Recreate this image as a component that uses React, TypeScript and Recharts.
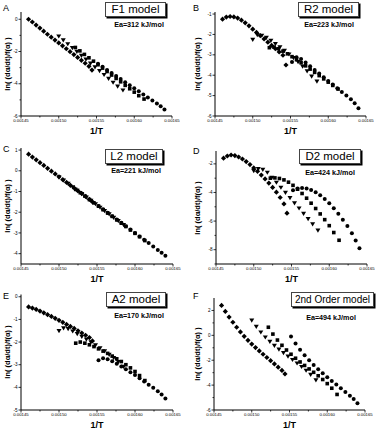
import { ScatterChart, Scatter, XAxis, YAxis } from "recharts";

const X_TICKS = [0.00145, 0.001475, 0.0015, 0.001525, 0.00155, 0.001575, 0.0016, 0.001625, 0.00165];

// 1/T values of the four runs
const DIAMOND_X = [0.00146, 0.001465, 0.00147, 0.001475, 0.00148, 0.001485, 0.00149, 0.001495, 0.0015, 0.001505, 0.00151, 0.001515, 0.00152, 0.001525, 0.00153, 0.001535, 0.00154, 0.001544];
const TRIANGLE_X = [0.0015, 0.001506, 0.001512, 0.001518, 0.001524, 0.00153, 0.001536, 0.001542, 0.001548, 0.001554, 0.00156, 0.001566, 0.001572, 0.001578, 0.001585];
const SQUARE_X = [0.001522, 0.001528, 0.001534, 0.00154, 0.001546, 0.001552, 0.001558, 0.001564, 0.00157, 0.001576, 0.001582, 0.001588, 0.001594, 0.0016, 0.001606, 0.001613];
const CIRCLE_X = [0.001552, 0.001558, 0.001564, 0.00157, 0.001576, 0.001582, 0.001588, 0.001594, 0.0016, 0.001606, 0.001612, 0.001618, 0.001624, 0.00163, 0.001635, 0.00164];

// F1 model
const F1_DIAMOND = [0, -0.17, -0.36, -0.55, -0.74, -0.93, -1.11, -1.29, -1.47, -1.65, -1.83, -2.01, -2.19, -2.37, -2.55, -2.73, -2.92, -3.15];
const F1_TRIANGLE = [-1.05, -1.29, -1.53, -1.77, -2.01, -2.25, -2.49, -2.73, -2.96, -3.2, -3.44, -3.68, -3.92, -4.16, -4.4];
const F1_SQUARE = [-1.75, -1.96, -2.18, -2.39, -2.6, -2.82, -3.03, -3.24, -3.46, -3.67, -3.88, -4.1, -4.31, -4.52, -4.74, -4.95];
const F1_CIRCLE = [-2.76, -2.95, -3.14, -3.33, -3.52, -3.71, -3.9, -4.09, -4.28, -4.47, -4.66, -4.85, -5.04, -5.23, -5.4, -5.6];

// R2 model
const R2_DIAMOND = [-1.25, -1.15, -1.12, -1.14, -1.2, -1.3, -1.43, -1.58, -1.74, -1.9, -2.06, -2.22, -2.38, -2.54, -2.7, -2.86, -3.02, -3.5];
const R2_TRIANGLE = [-2.25, -2.02, -2.05, -2.15, -2.3, -2.46, -2.62, -2.79, -2.97, -3.15, -3.34, -3.56, -3.8, -4.05, -4.3];
const R2_SQUARE = [-2.65, -2.62, -2.7, -2.82, -2.95, -3.09, -3.24, -3.39, -3.54, -3.7, -3.86, -4.02, -4.18, -4.34, -4.5, -4.68];
const R2_CIRCLE = [-3.35, -3.12, -3.2, -3.38, -3.56, -3.74, -3.92, -4.1, -4.28, -4.46, -4.64, -4.82, -5.0, -5.18, -5.38, -5.62];

// L2 model
const L2_DIAMOND = [0.8, 0.66, 0.53, 0.39, 0.26, 0.12, -0.02, -0.15, -0.29, -0.43, -0.56, -0.7, -0.83, -0.97, -1.1, -1.24, -1.38, -1.5];
const L2_TRIANGLE = [-0.3, -0.46, -0.62, -0.79, -0.95, -1.11, -1.28, -1.44, -1.6, -1.77, -1.93, -2.09, -2.26, -2.42, -2.61];
const L2_SQUARE = [-0.9, -1.06, -1.22, -1.39, -1.55, -1.71, -1.88, -2.04, -2.2, -2.37, -2.53, -2.69, -2.86, -3.02, -3.18, -3.37];
const L2_CIRCLE = [-1.7, -1.86, -2.02, -2.19, -2.35, -2.51, -2.68, -2.84, -3.0, -3.17, -3.33, -3.49, -3.66, -3.82, -3.96, -4.1];

// D2 model
const D2_DIAMOND = [-1.6, -1.45, -1.38, -1.42, -1.52, -1.66, -1.84, -2.05, -2.28, -2.52, -2.78, -3.05, -3.34, -3.65, -3.98, -4.35, -4.8, -5.45];
const D2_TRIANGLE = [-2.48, -2.35, -2.4, -2.6, -2.95, -3.3, -3.65, -4.0, -4.37, -4.74, -5.1, -5.47, -5.84, -6.21, -6.65];
const D2_SQUARE = [-3.0, -2.98, -3.02, -3.12, -3.28, -3.5, -3.77, -4.07, -4.4, -4.75, -5.12, -5.5, -5.9, -6.32, -6.8, -7.34];
const D2_CIRCLE = [-3.85, -3.72, -3.68, -3.72, -3.82, -3.98, -4.2, -4.46, -4.76, -5.1, -5.48, -5.9, -6.35, -6.85, -7.35, -7.9];

// A2 model
const A2_DIAMOND = [-0.45, -0.5, -0.56, -0.63, -0.71, -0.79, -0.87, -0.95, -1.04, -1.13, -1.22, -1.31, -1.4, -1.5, -1.6, -1.7, -1.8, -1.95];
const A2_TRIANGLE = [-1.5, -1.38, -1.42, -1.52, -1.64, -1.76, -1.88, -2.0, -2.13, -2.26, -2.4, -2.55, -2.7, -2.87, -3.08];
const A2_SQUARE = [-2.05, -2.0, -2.05, -2.12, -2.2, -2.3, -2.4, -2.5, -2.62, -2.74, -2.86, -3.0, -3.14, -3.3, -3.48, -3.7];
const A2_CIRCLE = [-2.8, -2.72, -2.76, -2.85, -2.96, -3.08, -3.2, -3.33, -3.46, -3.6, -3.74, -3.88, -4.02, -4.17, -4.32, -4.49];

// 2nd order model
const O2_DIAMOND = [2.4, 1.92, 1.47, 1.05, 0.65, 0.27, -0.08, -0.4, -0.7, -0.98, -1.25, -1.52, -1.78, -2.04, -2.3, -2.56, -2.82, -3.1];
const O2_TRIANGLE = [1.2, 0.7, 0.25, -0.15, -0.5, -0.82, -1.12, -1.4, -1.68, -1.96, -2.24, -2.52, -2.82, -3.15, -3.6];
const O2_SQUARE = [0.65, 0.1, -0.38, -0.8, -1.18, -1.52, -1.84, -2.14, -2.42, -2.7, -2.97, -3.25, -3.55, -3.88, -4.25, -4.75];
const O2_CIRCLE = [-0.1, -0.65, -1.15, -1.6, -2.0, -2.38, -2.72, -3.05, -3.36, -3.66, -3.95, -4.25, -4.55, -4.85, -5.12, -5.45];

const FONT = '"Liberation Sans", Arial, sans-serif';

const zip = (xs: number[], ys: number[]) => xs.map((x, i) => ({ x, y: ys[i] }));

const Diamond = (p: any) => (
  <polygon points={`${p.cx},${p.cy - 2.6} ${p.cx + 2.6},${p.cy} ${p.cx},${p.cy + 2.6} ${p.cx - 2.6},${p.cy}`} fill="#000" />
);
const TriDown = (p: any) => (
  <polygon points={`${p.cx - 2.5},${p.cy - 1.8} ${p.cx + 2.5},${p.cy - 1.8} ${p.cx},${p.cy + 2.4}`} fill="#000" />
);
const Square = (p: any) => <rect x={p.cx - 1.8} y={p.cy - 1.8} width={3.6} height={3.6} fill="#000" />;
const Dot = (p: any) => <circle cx={p.cx} cy={p.cy} r={2} fill="#000" />;

const XTick = (props: any) => {
  const { x, y, payload, index } = props;
  const major = index % 2 === 0;
  return (
    <g>
      <line x1={x} y1={y} x2={x} y2={y + (major ? 2.5 : 1.5)} stroke="#000" strokeWidth={0.8} />
      {major && (
        <text x={x} y={y + 6.3} fontSize={4.3} textAnchor="middle" fill="#000" fontFamily={FONT}>
          {payload.value.toFixed(5)}
        </text>
      )}
    </g>
  );
};

const makeYTick = (step: number) => (props: any) => {
  const { x, y, payload } = props;
  const major = Math.round(payload.value) % step === 0;
  return (
    <g>
      <line x1={x - (major ? 2.5 : 1.5)} y1={y} x2={x} y2={y} stroke="#000" strokeWidth={0.8} />
      {major && (
        <text x={x - 3.5} y={y + 1.6} fontSize={4.6} textAnchor="end" fill="#000" fontFamily={FONT}>
          {payload.value}
        </text>
      )}
    </g>
  );
};

const panels = [
  {
    letter: "A", model: "F1 model", ea: "Ea=312 kJ/mol", left: 0, top: 0, height: 140,
    plot: { l: 21, r: 172, t: 12, b: 116 }, domain: [-6, 0.45], yTicks: [-6, -5, -4, -3, -2, -1, 0], step: 2,
    box: { x: 105, y: 2, w: 61, h: 15 }, boxFont: 11.5, eaY: 25, eaX: 139, letterY: 4,
    ys: [F1_DIAMOND, F1_TRIANGLE, F1_SQUARE, F1_CIRCLE],
  },
  {
    letter: "B", model: "R2 model", ea: "Ea=223 kJ/mol", left: 190, top: 0, height: 140,
    plot: { l: 25, r: 176, t: 12, b: 116 }, domain: [-6, -0.9], yTicks: [-6, -5, -4, -3, -2, -1], step: 1,
    box: { x: 108, y: 2, w: 61, h: 15 }, boxFont: 11.5, eaY: 25, eaX: 139, letterY: 4,
    ys: [R2_DIAMOND, R2_TRIANGLE, R2_SQUARE, R2_CIRCLE],
  },
  {
    letter: "C", model: "L2 model", ea: "Ea=221 kJ/mol", left: 0, top: 140, height: 145,
    plot: { l: 21, r: 173, t: 8, b: 124 }, domain: [-4.5, 1.1], yTicks: [-4, -3, -2, -1, 0, 1], step: 1,
    box: { x: 105, y: 8.5, w: 58, h: 15 }, boxFont: 11.5, eaY: 31, eaX: 136, letterY: 5,
    ys: [L2_DIAMOND, L2_TRIANGLE, L2_SQUARE, L2_CIRCLE],
  },
  {
    letter: "D", model: "D2 model", ea: "Ea=424 kJ/mol", left: 190, top: 140, height: 145,
    plot: { l: 26, r: 177, t: 11, b: 124 }, domain: [-9, -1.1], yTicks: [-9, -8, -7, -6, -5, -4, -3, -2], step: 2,
    box: { x: 109, y: 8.5, w: 62, h: 15 }, boxFont: 11.5, eaY: 33, eaX: 140, letterY: 7,
    ys: [D2_DIAMOND, D2_TRIANGLE, D2_SQUARE, D2_CIRCLE],
  },
  {
    letter: "E", model: "A2 model", ea: "Ea=170 kJ/mol", left: 0, top: 285, height: 146,
    plot: { l: 21, r: 173, t: 9.5, b: 125 }, domain: [-5, 0.1], yTicks: [-5, -4, -3, -2, -1, 0], step: 1,
    box: { x: 106, y: 7, w: 60, h: 15 }, boxFont: 11.5, eaY: 31, eaX: 139, letterY: 7,
    ys: [A2_DIAMOND, A2_TRIANGLE, A2_SQUARE, A2_CIRCLE],
  },
  {
    letter: "F", model: "2nd Order model", ea: "Ea=494 kJ/mol", left: 190, top: 285, height: 146,
    plot: { l: 24, r: 175, t: 13, b: 125 }, domain: [-6, 3], yTicks: [-6, -5, -4, -3, -2, -1, 0, 1, 2], step: 2,
    box: { x: 101, y: 7, w: 83, h: 15 }, boxFont: 10, eaY: 33, eaX: 141, letterY: 7,
    ys: [O2_DIAMOND, O2_TRIANGLE, O2_SQUARE, O2_CIRCLE],
  },
];

const XS = [DIAMOND_X, TRIANGLE_X, SQUARE_X, CIRCLE_X];
const SHAPES = [Diamond, TriDown, Square, Dot];

const Panel = ({ p }: { p: (typeof panels)[number] }) => {
  const W = 190;
  const yAxisW = 10;
  const xAxisH = 10;
  const YTick = makeYTick(p.step);
  const midY = (p.plot.t + p.plot.b) / 2;
  const midX = (p.plot.l + p.plot.r) / 2;
  return (
    <div style={{ position: "absolute", left: p.left, top: p.top, width: W, height: p.height }}>
      <ScatterChart
        width={W}
        height={p.height}
        margin={{ top: p.plot.t, right: W - p.plot.r, bottom: p.height - p.plot.b - xAxisH, left: p.plot.l - yAxisW }}
      >
        <XAxis
          type="number"
          dataKey="x"
          domain={[0.00145, 0.00165]}
          ticks={X_TICKS}
          interval={0}
          height={xAxisH}
          tickSize={0}
          tickMargin={0}
          tickLine={false}
          tick={<XTick />}
          axisLine={{ stroke: "#000", strokeWidth: 1 }}
          allowDataOverflow
        />
        <YAxis
          type="number"
          dataKey="y"
          domain={p.domain}
          ticks={p.yTicks}
          interval={0}
          width={yAxisW}
          tickSize={0}
          tickMargin={0}
          tickLine={false}
          tick={<YTick />}
          axisLine={{ stroke: "#000", strokeWidth: 1 }}
          allowDataOverflow
        />
        {p.ys.map((ys, i) => (
          <Scatter key={i} data={zip(XS[i], ys)} shape={SHAPES[i]} isAnimationActive={false} />
        ))}
      </ScatterChart>
      <div style={{ position: "absolute", left: 3, top: p.letterY, fontSize: 9, fontFamily: FONT, lineHeight: "9px" }}>
        {p.letter}
      </div>
      <div
        style={{
          position: "absolute", left: p.box.x, top: p.box.y, width: p.box.w, height: p.box.h,
          boxSizing: "border-box", border: "1px solid #444", boxShadow: "1.5px 1.5px 0 #000", background: "#fff",
          fontFamily: FONT, fontSize: p.boxFont, lineHeight: `${p.box.h - 2}px`, textAlign: "center", whiteSpace: "nowrap",
        }}
      >
        {p.model}
      </div>
      <div
        style={{
          position: "absolute", left: p.eaX - 40, top: p.eaY - 5, width: 80, textAlign: "center",
          fontFamily: FONT, fontSize: 7.2, fontWeight: "bold", lineHeight: "10px", whiteSpace: "nowrap",
        }}
      >
        {p.ea}
      </div>
      <div
        style={{
          position: "absolute", left: 8 - 50, top: midY - 5, width: 100, textAlign: "center",
          transform: "rotate(-90deg)", fontFamily: FONT, fontSize: 7.5, fontWeight: "bold", lineHeight: "10px",
          whiteSpace: "nowrap",
        }}
      >
        ln( (dα/dt)/f(α) )
      </div>
      <div
        style={{
          position: "absolute", left: midX - 20, top: p.plot.b + 10, width: 40, textAlign: "center",
          fontFamily: FONT, fontSize: 9, fontWeight: "bold", lineHeight: "10px",
        }}
      >
        1/T
      </div>
    </div>
  );
};

export default function App() {
  return (
    <div style={{ position: "absolute", left: 0, top: 0, width: 380, height: 431, background: "#fff", overflow: "hidden" }}>
      {panels.map((p) => (
        <Panel key={p.letter} p={p} />
      ))}
    </div>
  );
}
